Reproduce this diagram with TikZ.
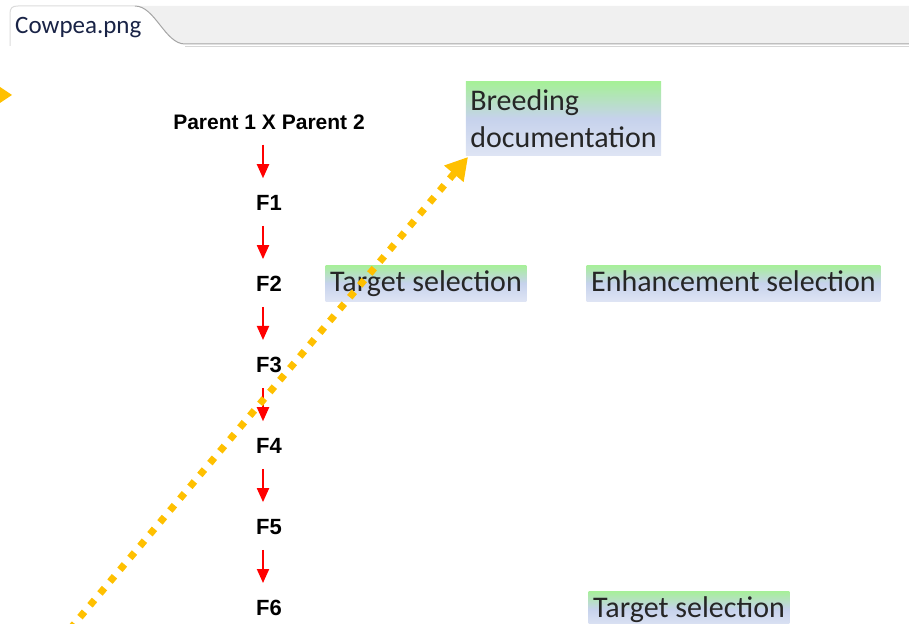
\documentclass[tikz,border=0pt]{standalone}
\usepackage{fontspec}
\setmainfont{Carlito}
\newfontfamily\arialfont{Liberation Sans}
\usetikzlibrary{arrows.meta}

\definecolor{dotorange}{RGB}{255,192,0}
\definecolor{boxgreen}{RGB}{166,240,152}
\definecolor{boxblue}{RGB}{198,210,236}
\definecolor{boxpale}{RGB}{222,228,244}
\definecolor{tabgray}{RGB}{240,240,240}
\definecolor{tabline}{RGB}{165,165,165}
\definecolor{tabtext}{RGB}{25,35,70}

\begin{document}
\begin{tikzpicture}
[x=1pt, y=-1pt,
gen/.style={font=\arialfont\bfseries\fontsize{21}{24}\selectfont, inner sep=0pt},
selbox/.style={font=\fontsize{30}{37}\selectfont, text=black!85, inner xsep=4.5pt, inner ysep=0pt,
  minimum height=36pt, top color=boxgreen, bottom color=boxpale, middle color=boxblue, align=left},
oneline/.style={selbox, text height=20pt, text depth=3pt},
redarrow/.style={draw=red, line width=2pt, -{Triangle[length=14pt,width=12pt]}, shorten <=15pt, shorten >=17pt},
dotarrow/.style={draw=dotorange, line width=7pt, dash pattern=on 7pt off 8.5pt, -{Triangle[length=22pt,width=24pt]}}]

\useasboundingbox (0,0) rectangle (909,623);

% file tab
\fill[tabgray] (135,6) -- (909,6) -- (909,44) -- (185,44) .. controls (165,44) and (155,6) .. (135,6) -- cycle;
\draw[tabline!40, line width=1pt] (10,46) -- (10,14) .. controls (10,8) and (12,6) .. (18,6) -- (135,6);
\draw[tabline, line width=1pt] (135,6) .. controls (155,6) and (165,44) .. (185,44) -- (909,44);
\draw[tabline!45, line width=1.5pt] (185,46.5) -- (909,46.5);
\node[font=\fontsize{25}{28}\selectfont, text=tabtext, anchor=base west, inner sep=0pt] (tab) at (15,34) {Cowpea.png};

\fill[dotorange] (0,87) -- (12,95) -- (0,103) -- cycle;

% generations
\node[gen] (parents) at (269,122) {Parent 1 X Parent 2};
\foreach \i in {1,...,6}
  \node[gen, font=\arialfont\bfseries\fontsize{22}{24}\selectfont] (f\i) at (269,{122+81*\i}) {F\i};

\draw[redarrow] ([xshift=-6pt]parents.south) -- ([xshift=-6pt]f1.north);
\foreach \i [count=\j from 2] in {1,...,5}
  \draw[redarrow] ([xshift=-6pt]f\i.south) -- ([xshift=-6pt]f\j.north);

% selection notes
\node[selbox, minimum height=73pt] (docu) at (563.5,118.5) {Breeding\\documentation};
\node[oneline] (target1) at (426,283) {Target selection};
\node[oneline] (enhance) at (733.5,283) {Enhancement selection};
\node[oneline] (target2) at (689,609) {Target selection};

% dotted pointer
\coordinate (dotstart) at (70,629);
\coordinate (dotend) at (468,157);
\draw[dotarrow] (dotstart) -- (dotend);
\end{tikzpicture}
\end{document}
